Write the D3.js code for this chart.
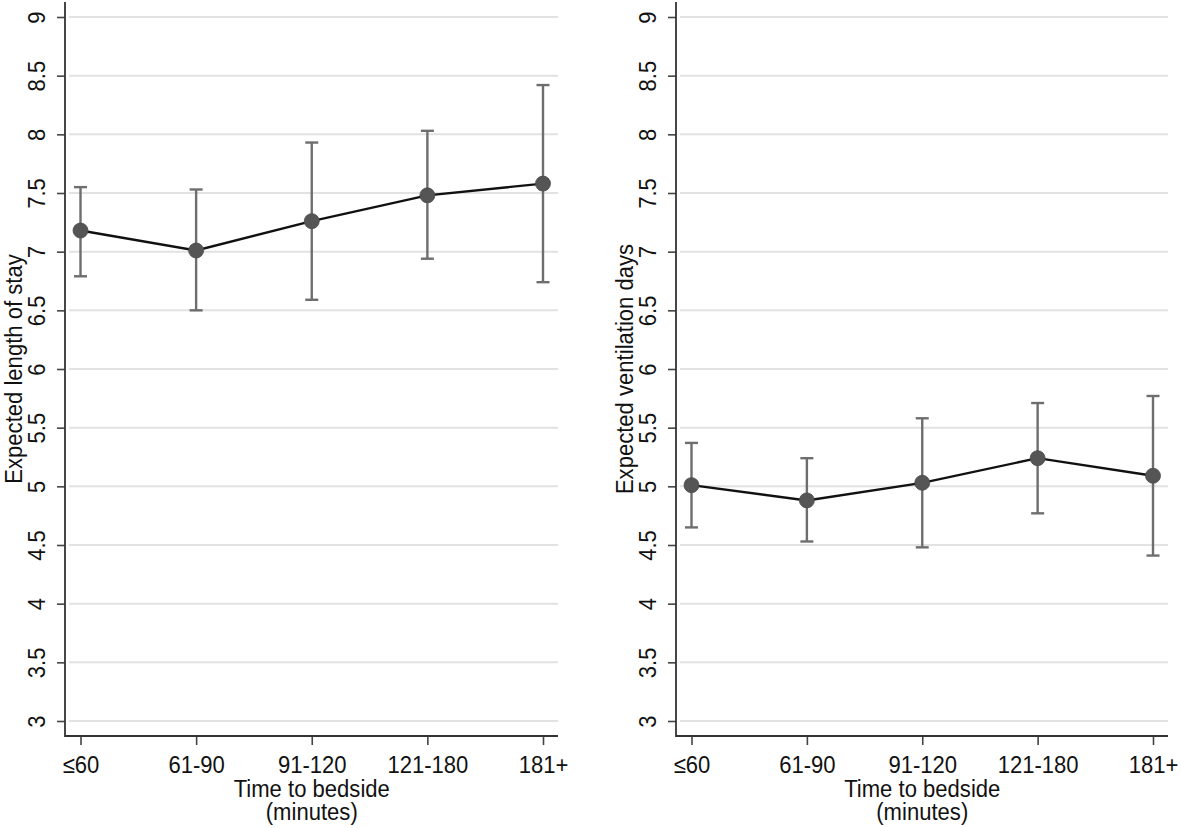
<!DOCTYPE html>
<html><head><meta charset="utf-8">
<script src="https://cdn.jsdelivr.net/npm/d3@7"></script>
<style>
html,body{margin:0;padding:0;background:#fff;}
svg{display:block;}
text{font-family:"Liberation Sans",Arial,sans-serif;fill:#111;}
</style></head>
<body>
<svg id="chart" width="1181" height="828"></svg>
<script>
const categories = ["≤60","61-90","91-120","121-180","181+"];
const yTicks = [3,3.5,4,4.5,5,5.5,6,6.5,7,7.5,8,8.5,9];
const yTickLabels = ["3","3.5","4","4.5","5","5.5","6","6.5","7","7.5","8","8.5","9"];

const losMean  = [7.18, 7.01, 7.26, 7.48, 7.58];
const losLower = [6.79, 6.50, 6.59, 6.94, 6.74];
const losUpper = [7.55, 7.53, 7.93, 8.03, 8.42];

const ventMean  = [5.01, 4.88, 5.03, 5.24, 5.09];
const ventLower = [4.65, 4.53, 4.48, 4.77, 4.41];
const ventUpper = [5.37, 5.24, 5.58, 5.71, 5.77];

const panels = [
  {x0:65, x1:558, title:"Expected length of stay", mean:losMean, lo:losLower, hi:losUpper},
  {x0:676, x1:1168, title:"Expected ventilation days", mean:ventMean, lo:ventLower, hi:ventUpper}
];
const xTitle1 = "Time to bedside", xTitle2 = "(minutes)";

const svg = d3.select("#chart");
const yTop = 17, yBot = 721, axisY = 736, axisTop = 2;
const y = d3.scaleLinear().domain([3,9]).range([yBot, yTop]);
const FS = 24, SX = 0.92;

panels.forEach(p => {
  const g = svg.append("g");
  const x = d3.scalePoint().domain(categories).range([p.x0 + 15.5, p.x1 - 15]);

  // gridlines
  g.append("g").selectAll("line").data(yTicks).join("line")
    .attr("x1", p.x0 + 4).attr("x2", p.x1)
    .attr("y1", d => y(d)).attr("y2", d => y(d))
    .attr("stroke", "#e2e2e2").attr("stroke-width", 2);

  // y axis
  const ya = g.append("g").attr("transform", `translate(${p.x0},0)`)
    .call(d3.axisLeft(y).tickValues(yTicks).tickFormat((d,i) => yTickLabels[i]).tickSize(8).tickSizeOuter(0));
  ya.select(".domain").remove();
  ya.selectAll(".tick line").attr("stroke", "#444").attr("stroke-width", 1.6);
  ya.selectAll(".tick text")
    .attr("font-size", FS).attr("fill", "#111")
    .attr("x", null).attr("dy", null)
    .attr("text-anchor", "middle")
    .attr("transform", `translate(-20,0) rotate(-90) scale(${SX},1)`);

  // x axis
  const xa = g.append("g").attr("transform", `translate(0,${axisY})`)
    .call(d3.axisBottom(x).tickSize(9).tickSizeOuter(0));
  xa.select(".domain").remove();
  xa.selectAll(".tick line").attr("stroke", "#444").attr("stroke-width", 1.6);
  xa.selectAll(".tick text").attr("font-size", FS).attr("fill", "#111")
    .attr("y", 37).attr("dy", null)
    .attr("transform", `scale(${SX},1)`);

  // axis lines
  g.append("path")
    .attr("d", `M${p.x0},${axisTop}V${axisY}H${p.x1}`)
    .attr("fill", "none").attr("stroke", "#333").attr("stroke-width", 1.8);

  // titles
  g.append("text").attr("font-size", FS).attr("text-anchor", "middle")
    .attr("transform", `translate(${p.x0 - 43},${(axisTop + axisY)/2}) rotate(-90) scale(${SX},1)`)
    .text(p.title);
  const cx = (x(categories[0]) + x(categories[categories.length-1]))/2;
  g.append("text").attr("font-size", FS).attr("text-anchor", "middle")
    .attr("transform", `translate(${cx},797) scale(${SX},1)`).text(xTitle1);
  g.append("text").attr("font-size", FS).attr("text-anchor", "middle")
    .attr("transform", `translate(${cx},820) scale(${SX},1)`).text(xTitle2);

  // error bars
  const eb = g.append("g").attr("stroke", "#6e6e6e").attr("stroke-width", 2.4);
  categories.forEach((c, i) => {
    const cxp = x(c);
    eb.append("line").attr("x1", cxp).attr("x2", cxp).attr("y1", y(p.lo[i])).attr("y2", y(p.hi[i]));
    eb.append("line").attr("x1", cxp-6.5).attr("x2", cxp+6.5).attr("y1", y(p.lo[i])).attr("y2", y(p.lo[i]));
    eb.append("line").attr("x1", cxp-6.5).attr("x2", cxp+6.5).attr("y1", y(p.hi[i])).attr("y2", y(p.hi[i]));
  });

  // line
  const line = d3.line().x((d,i) => x(categories[i])).y(d => y(d));
  g.append("path").datum(p.mean).attr("d", line)
    .attr("fill", "none").attr("stroke", "#111").attr("stroke-width", 2.4);

  // markers
  g.append("g").selectAll("circle").data(p.mean).join("circle")
    .attr("cx", (d,i) => x(categories[i])).attr("cy", d => y(d))
    .attr("r", 7.5).attr("fill", "#555").attr("stroke", "#4a4a4a").attr("stroke-width", 0.8);
});
</script>
</body></html>
